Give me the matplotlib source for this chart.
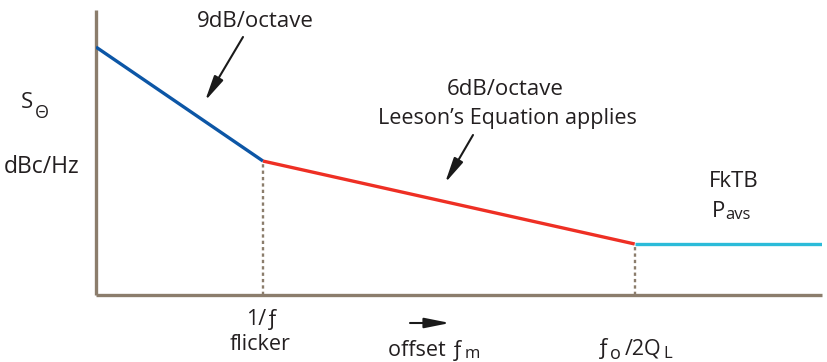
import matplotlib
matplotlib.use("Agg")
import matplotlib.pyplot as plt
from matplotlib.patches import FancyArrowPatch

# ---- data (abstract units) ----
seg_blue_x = [0.0, 2.30]
seg_blue_y = [8.70, 4.70]
seg_red_x = [2.30, 7.42]
seg_red_y = [4.70, 1.79]
seg_cyan_x = [7.42, 10.0]
seg_cyan_y = [1.79, 1.79]
corner_x = [2.30, 7.42]
corner_y = [4.70, 1.79]

W, H = 827, 362
TXT = "#231f20"
SPINE = "#8b7d6c"
FAM = ["Open Sans", "DejaVu Sans"]

fig = plt.figure(figsize=(W / 100, H / 100), dpi=100)
ax = fig.add_axes([96 / W, (H - 295) / H, (822 - 96) / W, (295 - 10) / H])
ax.set_xlim(0, 10)
ax.set_ylim(0, 10)
for s in ["top", "right"]:
    ax.spines[s].set_visible(False)
for s in ["left", "bottom"]:
    ax.spines[s].set_color(SPINE)
    ax.spines[s].set_linewidth(2.4)
    ax.spines[s].set_capstyle("butt")
ax.set_xticks([])
ax.set_yticks([])
ax.patch.set_alpha(0)

ax.plot(seg_blue_x, seg_blue_y, color="#0c56a6", lw=2.4, solid_capstyle="butt", zorder=3)
ax.plot(seg_red_x, seg_red_y, color="#ee2f24", lw=2.4, solid_capstyle="butt", zorder=3)
ax.plot(seg_cyan_x, seg_cyan_y, color="#2bbbd9", lw=2.4, solid_capstyle="butt", zorder=3)
for cx, cy in zip(corner_x, corner_y):
    ax.plot([cx, cx], [0, cy], color=SPINE, lw=1.7, linestyle=(0, (1.4, 1.3)), zorder=2)

renderer = fig.canvas.get_renderer()


def fp(x, y):
    return (x / W, 1 - y / H)


def txt(x, y, s, size, ha="center", **kw):
    return fig.text(*fp(x, y), s, fontsize=size, ha=ha, va="baseline", color=TXT,
                    family=FAM, **kw)


def after(t, dx, y, s, size):
    """place text s to the right of text t (pixel gap dx), baseline y"""
    x1 = t.get_window_extent(renderer).x1
    return txt(x1 + dx, y, s, size, ha="left")


txt(255, 27, "9dB/octave", 16)
txt(505, 95, "6dB/octave", 16)
txt(507, 124, "Leeson\u2019s Equation applies", 15.5)
txt(734, 187, "FkTB", 16)
p = txt(712, 217, "P", 16, ha="left")
after(p, 0, 219, "avs", 12)
s = txt(21, 108, "S", 16, ha="left")
after(s, 2, 118, "\u0398", 13)
txt(42, 173, "dBc/Hz", 16.5)
txt(262, 325, "1/\u0192", 15.5)
txt(260, 350, "flicker", 15.5)
o = txt(388, 356, "offset \u0192", 15.5, ha="left")
after(o, 1, 358, "m", 12)
f = txt(597, 354, "\u0192", 16, ha="left")
fo = after(f, 0, 359, "o", 13)
q = after(fo, 4, 354, "/2Q", 15.5)
after(q, 2, 358, "L", 12)

arrow = dict(arrowstyle="-|>,head_length=0.85,head_width=0.17", color="#1a1a1a",
             lw=1.5, mutation_scale=18, shrinkA=0, shrinkB=0)
fig.add_artist(FancyArrowPatch(fp(243, 37), fp(205, 101), transform=fig.transFigure, **arrow))
fig.add_artist(FancyArrowPatch(fp(473, 135), fp(445, 183), transform=fig.transFigure, **arrow))
fig.add_artist(FancyArrowPatch(fp(410, 323), fp(450, 323), transform=fig.transFigure, **arrow))

fig.savefig("out.png", dpi=100)
